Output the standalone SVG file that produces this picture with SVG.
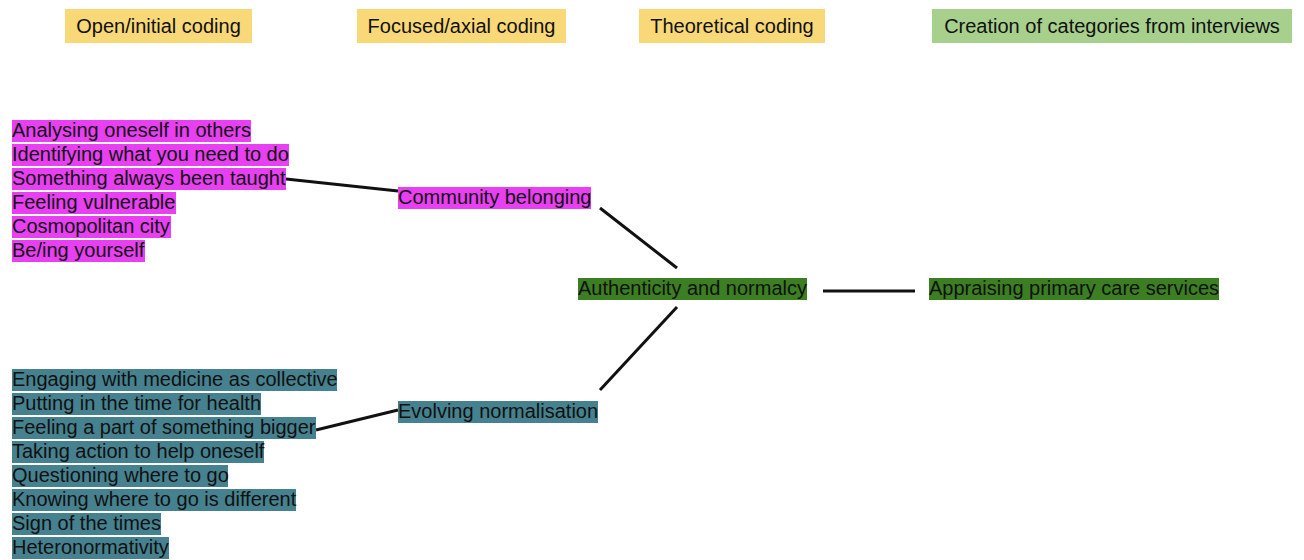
<svg xmlns="http://www.w3.org/2000/svg" width="1304" height="560" viewBox="0 0 1304 560">
<style>
text{font-family:"Liberation Sans",Arial,sans-serif;font-size:20px;fill:#111}
.hy{fill:#F9D878}
.hg{fill:#A8D08D}
.mg{fill:#E83FF2}
.dg{fill:#3C7E22}
.tl{fill:#45818E}
.c{text-anchor:middle}
.ln{stroke:#111;stroke-width:3;fill:none;stroke-linecap:butt}
</style>
<rect width="1304" height="560" fill="#fff"/>
<g id="headers">
<g id="h1"><rect class="hy" x="65" y="9" width="187" height="34"/><text class="c" x="158.5" y="33">Open/initial coding</text></g>
<g id="h2"><rect class="hy" x="357" y="9" width="209" height="34"/><text class="c" x="461.5" y="33">Focused/axial coding</text></g>
<g id="h3"><rect class="hy" x="639" y="9" width="186" height="34"/><text class="c" x="732" y="33">Theoretical coding</text></g>
<g id="h4"><rect class="hg" x="932" y="9" width="360" height="34"/><text class="c" x="1112" y="33">Creation of categories from interviews</text></g>
</g>
<g id="connectors">
<line class="ln" x1="286" y1="179" x2="398" y2="191"/>
<line class="ln" x1="600" y1="208" x2="677" y2="268"/>
<line class="ln" x1="677" y1="307" x2="600" y2="390"/>
<line class="ln" x1="823" y1="291" x2="915" y2="291"/>
<line class="ln" x1="316" y1="430" x2="398" y2="410"/>
</g>
<g id="n-analysing"><rect class="mg" x="12" y="120" width="239" height="22"/><text x="12" y="137">Analysing oneself in others</text></g>
<g id="n-identifying"><rect class="mg" x="12" y="144" width="277" height="22"/><text x="12" y="161">Identifying what you need to do</text></g>
<g id="n-something"><rect class="mg" x="12" y="168" width="274" height="22"/><text x="12" y="185">Something always been taught</text></g>
<g id="n-feeling-vuln"><rect class="mg" x="12" y="192" width="164" height="22"/><text x="12" y="209">Feeling vulnerable</text></g>
<g id="n-cosmo"><rect class="mg" x="12" y="216" width="159" height="22"/><text x="12" y="233">Cosmopolitan city</text></g>
<g id="n-being"><rect class="mg" x="12" y="240" width="133" height="22"/><text x="12" y="257">Be/ing yourself</text></g>
<g id="n-community"><rect class="mg" x="398" y="187" width="193" height="22"/><text x="398" y="204">Community belonging</text></g>
<g id="n-authenticity"><rect class="dg" x="578" y="278" width="229" height="22"/><text x="578" y="295">Authenticity and normalcy</text></g>
<g id="n-appraising"><rect class="dg" x="929" y="278" width="290" height="22"/><text x="929" y="295">Appraising primary care services</text></g>
<g id="n-evolving"><rect class="tl" x="398" y="401" width="200" height="22"/><text x="398" y="418">Evolving normalisation</text></g>
<g id="n-engaging"><rect class="tl" x="12" y="369" width="325" height="22"/><text x="12" y="386">Engaging with medicine as collective</text></g>
<g id="n-putting"><rect class="tl" x="12" y="393" width="249" height="22"/><text x="12" y="410">Putting in the time for health</text></g>
<g id="n-feeling-part"><rect class="tl" x="12" y="417" width="304" height="22"/><text x="12" y="434">Feeling a part of something bigger</text></g>
<g id="n-taking"><rect class="tl" x="12" y="441" width="252" height="22"/><text x="12" y="458">Taking action to help oneself</text></g>
<g id="n-questioning"><rect class="tl" x="12" y="465" width="216" height="22"/><text x="12" y="482">Questioning where to go</text></g>
<g id="n-knowing"><rect class="tl" x="12" y="489" width="284" height="22"/><text x="12" y="506">Knowing where to go is different</text></g>
<g id="n-sign"><rect class="tl" x="12" y="513" width="149" height="22"/><text x="12" y="530">Sign of the times</text></g>
<g id="n-hetero"><rect class="tl" x="12" y="537" width="157" height="22"/><text x="12" y="554">Heteronormativity</text></g>
</svg>
